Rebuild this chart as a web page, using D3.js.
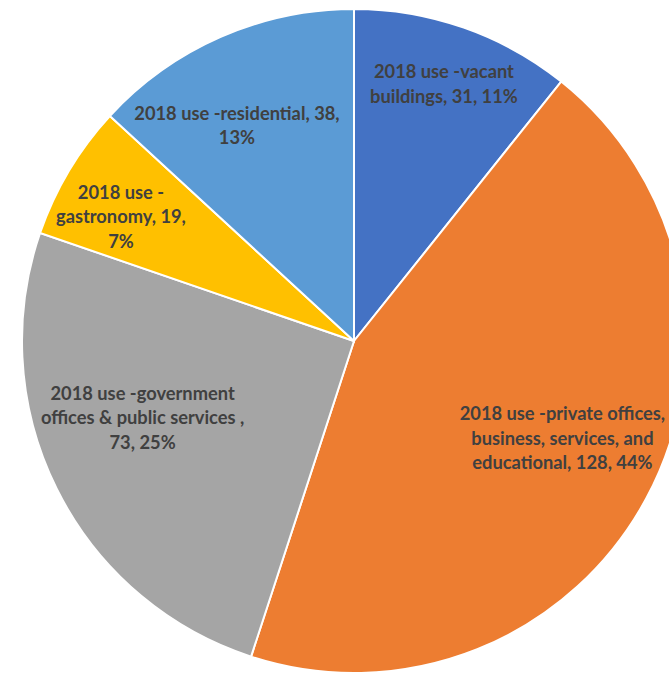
<!DOCTYPE html>
<html>
<head>
<meta charset="utf-8">
<script src="https://cdn.jsdelivr.net/npm/d3@7"></script>
<style>
  html, body { margin: 0; padding: 0; background: #fff; }
  svg { display: block; }
</style>
</head>
<body>
<svg id="chart" width="669" height="676"></svg>
<script>
// data
var categories = [
  "2018 use -vacant buildings",
  "2018 use -private offices, business, services, and educational",
  "2018 use -government offices & public services ",
  "2018 use -gastronomy",
  "2018 use -residential"
];
var values = [31, 128, 73, 19, 38];
var colors = ["#4472C4", "#ED7D31", "#A5A5A5", "#FFC000", "#5B9BD5"];

// label layout: radius of label centre, angle nudge (rad), wrap width
var labelLayout = [
  { r: 272, da: 0.000, wrap: 160 },
  { r: 230, da: -0.058, wrap: 210 },
  { r: 225, da: 0.113, wrap: 215 },
  { r: 264, da: -0.049, wrap: 140 },
  { r: 245, da: -0.085, wrap: 220 }
];

var width = 669, height = 676;
var cx = 354, cy = 341, radius = 332;
var fontSize = 18.3;
var lineHeight = 24.5;

var total = d3.sum(values);
var svg = d3.select("#chart");
var g = svg.append("g").attr("transform", "translate(" + cx + "," + cy + ")");

var pie = d3.pie().sort(null).value(function(d) { return d; });
var arcs = pie(values);
var arc = d3.arc().innerRadius(0).outerRadius(radius);

g.selectAll("path.slice")
  .data(arcs)
  .enter().append("path")
  .attr("class", "slice")
  .attr("d", arc)
  .attr("fill", function(d, i) { return colors[i]; })
  .attr("stroke", "#fff")
  .attr("stroke-width", 2);

// measuring text for wrapping
var measure = svg.append("text")
  .attr("font-family", "Lato, 'Open Sans', sans-serif")
  .attr("font-weight", "bold")
  .attr("font-size", fontSize)
  .attr("visibility", "hidden");

function textWidth(s) {
  measure.text(s);
  return measure.node().getComputedTextLength();
}

// break after spaces and after a hyphen that starts a word
function tokens(s) {
  var out = [];
  var cur = "";
  for (var k = 0; k < s.length; k++) {
    cur += s[k];
    if (s[k] === " " || (s[k] === "-" && k > 0 && s[k - 1] === " ")) {
      out.push(cur);
      cur = "";
    }
  }
  if (cur) out.push(cur);
  return out;
}

function wrap(s, maxW) {
  var lines = [];
  var line = "";
  tokens(s).forEach(function(t) {
    var test = line + t;
    if (line && textWidth(test.trim()) > maxW) {
      lines.push(line.trim());
      line = t;
    } else {
      line = test;
    }
  });
  if (line.trim()) lines.push(line.trim());
  return lines;
}

arcs.forEach(function(d, i) {
  var lay = labelLayout[i];
  var mid = (d.startAngle + d.endAngle) / 2 + lay.da;
  var la = d3.arc().innerRadius(lay.r).outerRadius(lay.r);
  var pt = la.centroid({ startAngle: mid, endAngle: mid });
  var pct = Math.round(values[i] / total * 100);
  var txt = categories[i] + ", " + values[i] + ", " + pct + "%";
  var lines = wrap(txt, lay.wrap);
  var t = g.append("text")
    .attr("class", "label")
    .attr("text-anchor", "middle")
    .attr("font-family", "Lato, 'Open Sans', sans-serif")
    .attr("font-weight", "bold")
    .attr("font-size", fontSize)
    .attr("fill", "#404040");
  var y0 = pt[1] - (lines.length - 1) * lineHeight / 2;
  lines.forEach(function(l, j) {
    t.append("tspan")
      .attr("x", pt[0])
      .attr("y", y0 + j * lineHeight)
      .attr("dy", "0.35em")
      .text(l);
  });
});

measure.remove();
</script>
</body>
</html>
